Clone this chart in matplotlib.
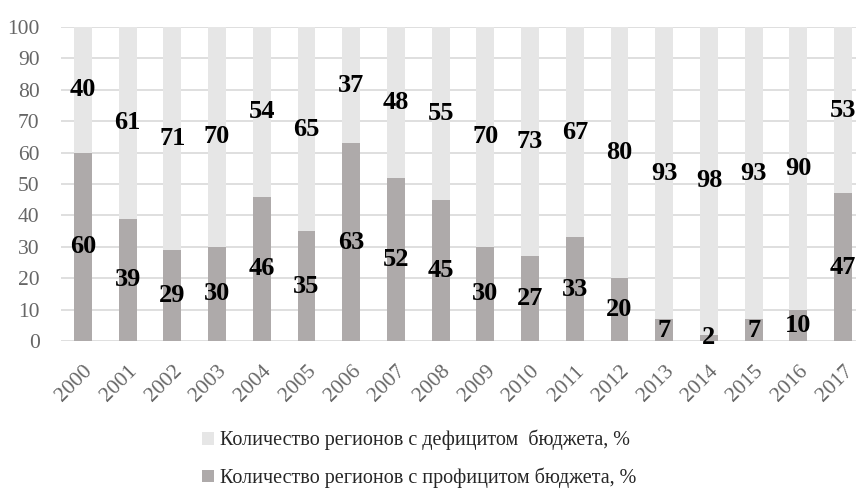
import matplotlib.pyplot as plt
import numpy as np

plt.rcParams['font.family'] = ['Liberation Serif', 'DejaVu Serif']

years = ['2000', '2001', '2002', '2003', '2004', '2005', '2006', '2007', '2008',
         '2009', '2010', '2011', '2012', '2013', '2014', '2015', '2016', '2017']
surplus = [60, 39, 29, 30, 46, 35, 63, 52, 45, 30, 27, 33, 20, 7, 2, 7, 10, 47]
deficit = [40, 61, 71, 70, 54, 65, 37, 48, 55, 70, 73, 67, 80, 93, 98, 93, 90, 53]

label_deficit = 'Количество регионов с дефицитом  бюджета, %'
label_surplus = 'Количество регионов с профицитом бюджета, %'

c_deficit = '#e6e6e6'
c_surplus = '#aeaaaa'

fig = plt.figure(figsize=(8.56, 4.92), dpi=100)
# axes runs a bit past the right edge, like in the source picture
ax = fig.add_axes([60.5 / 856, 151 / 492, 805 / 856, 314 / 492])

x = np.arange(len(years))
b1 = ax.bar(x, surplus, width=0.4, color=c_surplus, label=label_surplus, zorder=2)
b2 = ax.bar(x, deficit, width=0.4, bottom=surplus, color=c_deficit,
            label=label_deficit, zorder=2)

for i in range(len(years)):
    ax.text(x[i], surplus[i] / 2, str(surplus[i]), ha='center', va='center',
            fontsize=19, fontweight='bold', color='black', zorder=3)
    ax.text(x[i], surplus[i] + deficit[i] / 2, str(deficit[i]), ha='center',
            va='center', fontsize=19, fontweight='bold', color='black', zorder=3)

ax.set_xlim(-0.5, len(years) - 0.5)
ax.set_ylim(0, 100)
ax.set_yticks(range(0, 101, 10))
ax.yaxis.grid(True, color='#d9d9d9', linewidth=1.2, zorder=0)
ax.set_axisbelow(True)
for s in ax.spines.values():
    s.set_visible(False)
ax.tick_params(axis='both', length=0, colors='#666666', labelsize=15.5)
ax.tick_params(axis='y', pad=15)
ax.set_xticks(x)
ax.set_xticklabels(years, rotation=45, ha='right', rotation_mode='anchor')
ax.tick_params(axis='x', pad=15)

fig.legend(handles=[b2, b1], labels=[label_deficit, label_surplus],
           loc='upper left', bbox_to_anchor=(202 / 856, 1 - 430 / 492),
           frameon=False, fontsize=14.5, handlelength=0.6, handleheight=0.6,
           handletextpad=0.3, labelspacing=0.85, borderpad=0,
           borderaxespad=0, labelcolor='#262626')

fig.savefig('out.png', dpi=100)
